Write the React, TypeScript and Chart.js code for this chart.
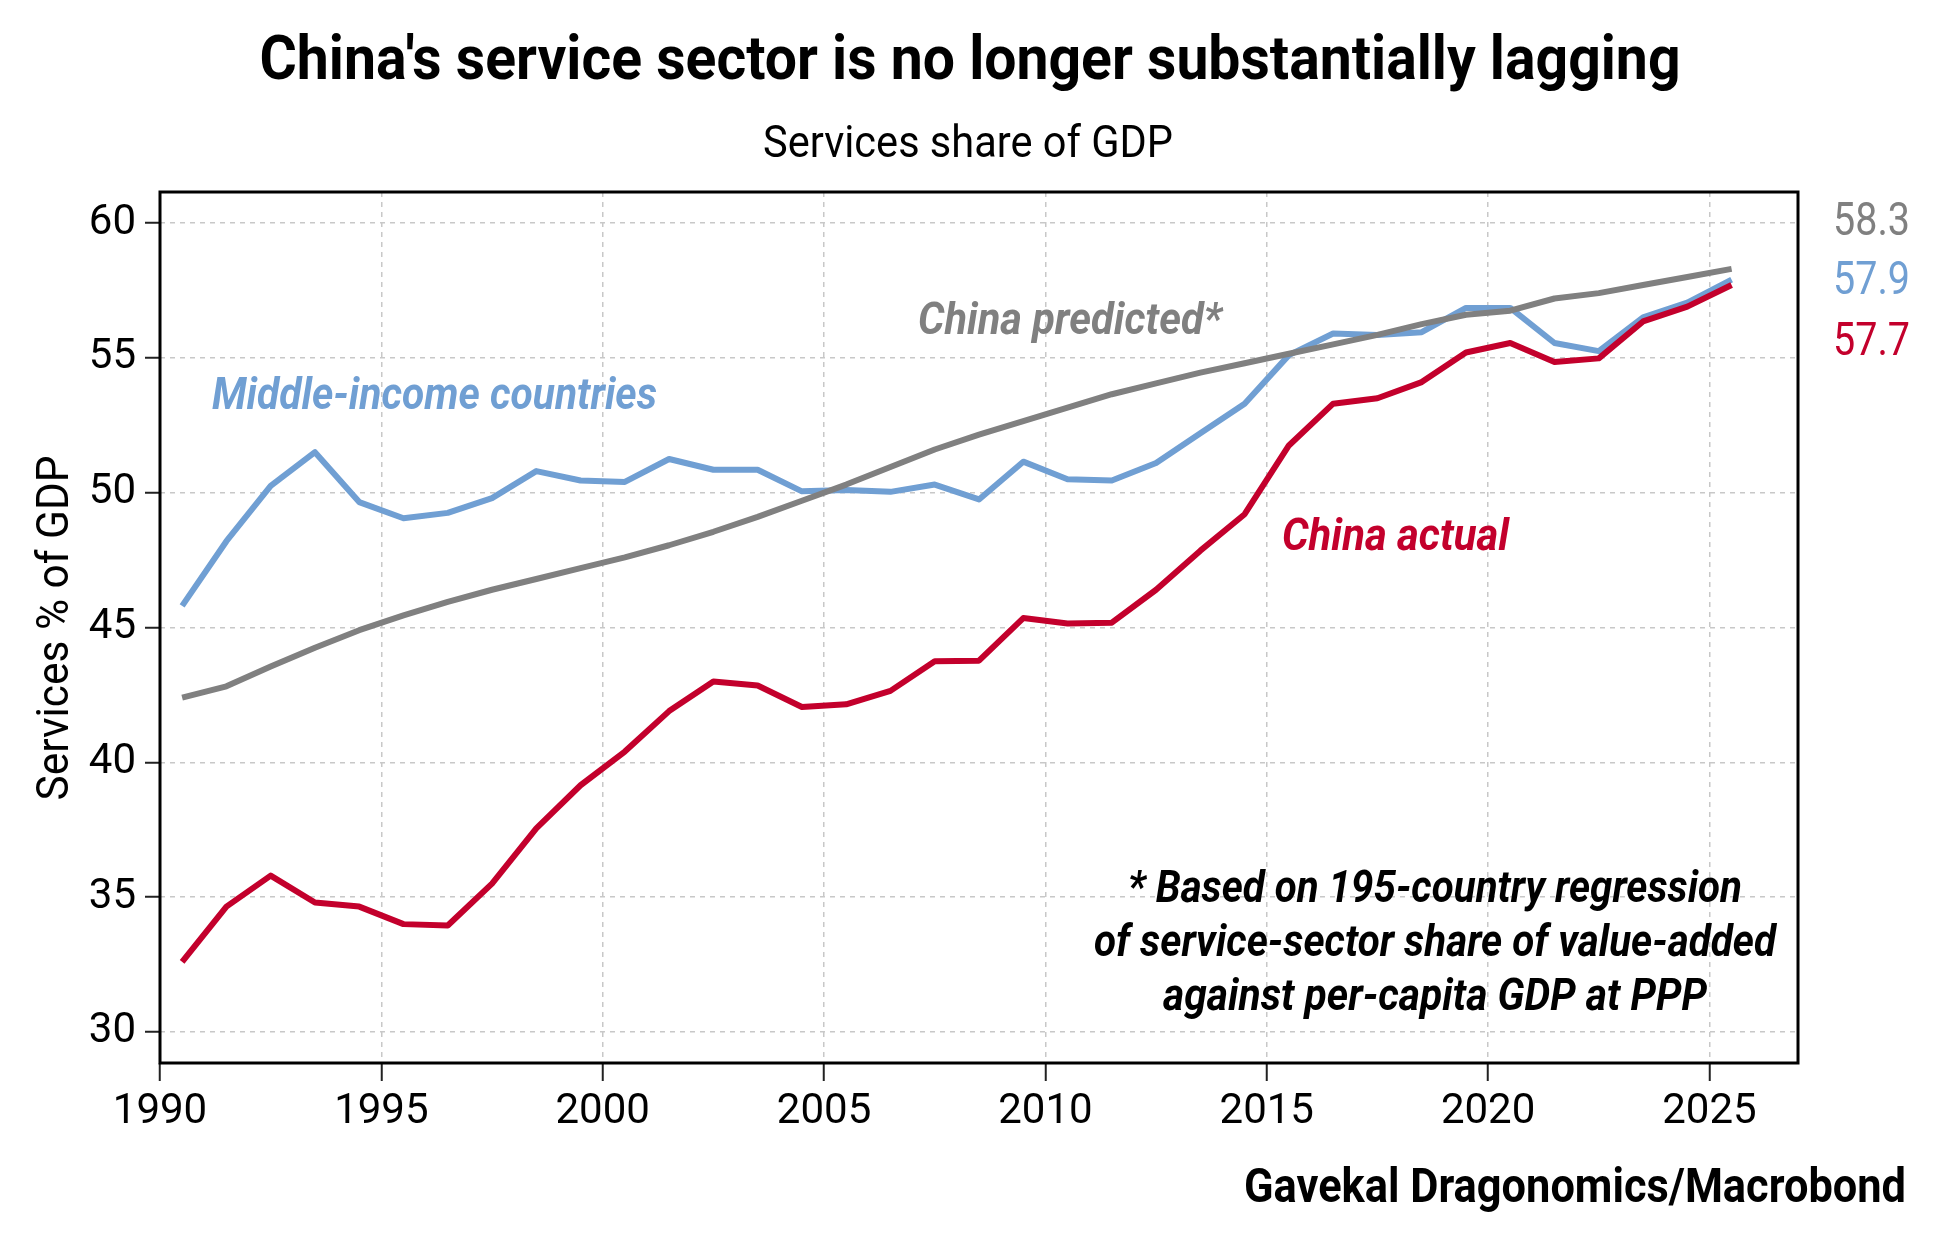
import React, { useEffect, useRef } from 'react';
import { Chart, registerables } from 'chart.js';

Chart.register(...registerables);

// ---------- data ----------
const YEARS = [
  1990, 1991, 1992, 1993, 1994, 1995, 1996, 1997, 1998, 1999,
  2000, 2001, 2002, 2003, 2004, 2005, 2006, 2007, 2008, 2009,
  2010, 2011, 2012, 2013, 2014, 2015, 2016, 2017, 2018, 2019,
  2020, 2021, 2022, 2023, 2024, 2025,
];

const MIDDLE_INCOME = [
  45.8, 48.2, 50.25, 51.5, 49.65, 49.05, 49.25, 49.8, 50.8, 50.45,
  50.4, 51.25, 50.85, 50.85, 50.05, 50.1, 50.03, 50.3, 49.75, 51.15,
  50.5, 50.45, 51.1, 52.2, 53.3, 55.1, 55.9, 55.85, 55.95, 56.85,
  56.85, 55.55, 55.25, 56.5, 57.05, 57.9,
];

const CHINA_PREDICTED = [
  42.4, 42.82, 43.55, 44.25, 44.9, 45.45, 45.95, 46.4, 46.8, 47.2,
  47.6, 48.05, 48.55, 49.1, 49.7, 50.3, 50.95, 51.6, 52.15, 52.65,
  53.15, 53.65, 54.05, 54.45, 54.8, 55.15, 55.5, 55.85, 56.25, 56.6,
  56.75, 57.2, 57.4, 57.7, 58.0, 58.3,
];

const CHINA_ACTUAL = [
  32.6, 34.65, 35.8, 34.8, 34.65, 34.0, 33.95, 35.5, 37.55, 39.15,
  40.4, 41.9, 43.0, 42.85, 42.05, 42.15, 42.65, 43.75, 43.77, 45.35,
  45.15, 45.18, 46.4, 47.85, 49.2, 51.75, 53.3, 53.5, 54.1, 55.2,
  55.55, 54.85, 54.98, 56.35, 56.9, 57.7,
];

const X_TICKS = [1990, 1995, 2000, 2005, 2010, 2015, 2020, 2025];
const Y_TICKS = [30, 35, 40, 45, 50, 55, 60];
const END_LABELS = ['58.3', '57.9', '57.7'];

const TITLE = "China's service sector is no longer substantially lagging";
const SUBTITLE = 'Services share of GDP';
const Y_TITLE = 'Services % of GDP';
const SOURCE = 'Gavekal Dragonomics/Macrobond';
const NOTE_LINES = [
  '* Based on 195-country regression',
  'of service-sector share of value-added',
  'against per-capita GDP at PPP',
];

const BLUE = '#709fd3';
const GREY = '#808080';
const RED = '#c3002c';
const FONT = 'Roboto';

function fitText(
  ctx: CanvasRenderingContext2D,
  text: string,
  x: number,
  y: number,
  font: string,
  color: string,
  width: number,
  align: 'left' | 'center' | 'right',
  rotate = 0,
) {
  ctx.save();
  ctx.font = font;
  ctx.fillStyle = color;
  ctx.textBaseline = 'alphabetic';
  ctx.textAlign = 'left';
  const w = ctx.measureText(text).width;
  ctx.translate(x, y);
  if (rotate) ctx.rotate(rotate);
  const off = align === 'left' ? 0 : align === 'center' ? -width / 2 : -width;
  ctx.translate(off, 0);
  ctx.scale(width / w, 1);
  ctx.fillText(text, 0, 0);
  ctx.restore();
}

const decorPlugin = {
  id: 'decor',
  beforeDraw(chart: any) {
    const ctx = chart.ctx as CanvasRenderingContext2D;
    ctx.save();
    ctx.fillStyle = '#ffffff';
    ctx.fillRect(0, 0, chart.width, chart.height);
    ctx.restore();
  },
  afterDraw(chart: any) {
    const ctx = chart.ctx as CanvasRenderingContext2D;
    const a = chart.chartArea;
    ctx.save();
    ctx.strokeStyle = '#000';
    ctx.lineWidth = 3;
    ctx.setLineDash([]);
    ctx.strokeRect(a.left, a.top, a.right - a.left, a.bottom - a.top);
    ctx.restore();

    fitText(ctx, TITLE, 970, 79, `bold 62px ${FONT}`, '#000', 1421, 'center');
    fitText(ctx, SUBTITLE, 968, 157, `45px ${FONT}`, '#000', 410, 'center');
    fitText(ctx, Y_TITLE, 68, 628, `45px ${FONT}`, '#000', 345, 'center', -Math.PI / 2);
    fitText(ctx, SOURCE, 1906, 1202, `bold 48px ${FONT}`, '#000', 662, 'right');

    fitText(ctx, END_LABELS[0], 1833, 235, `46px ${FONT}`, GREY, 77, 'left');
    fitText(ctx, END_LABELS[1], 1833, 294, `46px ${FONT}`, BLUE, 77, 'left');
    fitText(ctx, END_LABELS[2], 1833, 355, `46px ${FONT}`, RED, 77, 'left');

    fitText(ctx, 'Middle-income countries', 212, 409, `italic bold 45px ${FONT}`, BLUE, 445, 'left');
    fitText(ctx, 'China predicted*', 918, 334, `italic bold 45px ${FONT}`, GREY, 304, 'left');
    fitText(ctx, 'China actual', 1282, 550, `italic bold 45px ${FONT}`, RED, 227, 'left');

    const noteW = [614, 682, 544];
    const noteY = [902, 956, 1010];
    NOTE_LINES.forEach((t, i) =>
      fitText(ctx, t, 1435, noteY[i], `italic bold 45px ${FONT}`, '#000', noteW[i], 'center'),
    );
  },
};

const toPoints = (vals: number[]) => YEARS.map((yr, i) => ({ x: yr + 0.5, y: vals[i] }));

export default function App() {
  const ref = useRef<HTMLCanvasElement>(null);

  useEffect(() => {
    const canvas = ref.current;
    if (!canvas) return;
    const gridCommon = {
      color: '#c8c8c8',
      lineWidth: 1.5,
      tickColor: '#222',
      tickWidth: 2,
      drawTicks: true,
    };
    const lineCommon = {
      borderWidth: 6,
      pointRadius: 0,
      tension: 0,
      borderJoinStyle: 'round',
    };
    const chart = new Chart(canvas, {
      type: 'line',
      data: {
        datasets: [
          { label: 'China actual', data: toPoints(CHINA_ACTUAL), borderColor: RED, ...lineCommon },
          { label: 'China predicted', data: toPoints(CHINA_PREDICTED), borderColor: GREY, ...lineCommon },
          { label: 'Middle-income countries', data: toPoints(MIDDLE_INCOME), borderColor: BLUE, ...lineCommon },
        ],
      },
      options: {
        animation: false,
        responsive: false,
        devicePixelRatio: 1,
        layout: { padding: { top: 192, right: 139, left: 0, bottom: 0 } },
        plugins: { legend: { display: false }, tooltip: { enabled: false }, title: { display: false } },
        scales: {
          x: {
            type: 'linear',
            min: 1990,
            max: 2027,
            afterBuildTicks: (s: any) => {
              s.ticks = X_TICKS.map((v) => ({ value: v }));
            },
            afterFit: (s: any) => {
              s.height = 187;
            },
            ticks: {
              autoSkip: false,
              maxRotation: 0,
              padding: 6,
              color: '#000',
              font: { family: FONT, size: 42 },
              callback: (v: any) => String(v),
            },
            grid: { ...gridCommon, tickLength: 18 },
            border: { display: false, dash: [5, 5] },
          },
          y: {
            type: 'linear',
            min: 28.85,
            max: 61.15,
            afterBuildTicks: (s: any) => {
              s.ticks = Y_TICKS.map((v) => ({ value: v }));
            },
            afterFit: (s: any) => {
              s.width = 160;
            },
            ticks: {
              padding: 9,
              color: '#000',
              font: { family: FONT, size: 42 },
              callback: (v: any) => String(v),
            },
            grid: { ...gridCommon, tickLength: 15 },
            border: { display: false, dash: [5, 5] },
          },
        },
      },
      plugins: [decorPlugin],
    } as any);
    return () => chart.destroy();
  }, []);

  return (
    <div style={{ position: 'absolute', left: 0, top: 0, width: 1937, height: 1250, background: '#fff' }}>
      <canvas ref={ref} width={1937} height={1250} style={{ width: 1937, height: 1250, display: 'block' }} />
    </div>
  );
}
